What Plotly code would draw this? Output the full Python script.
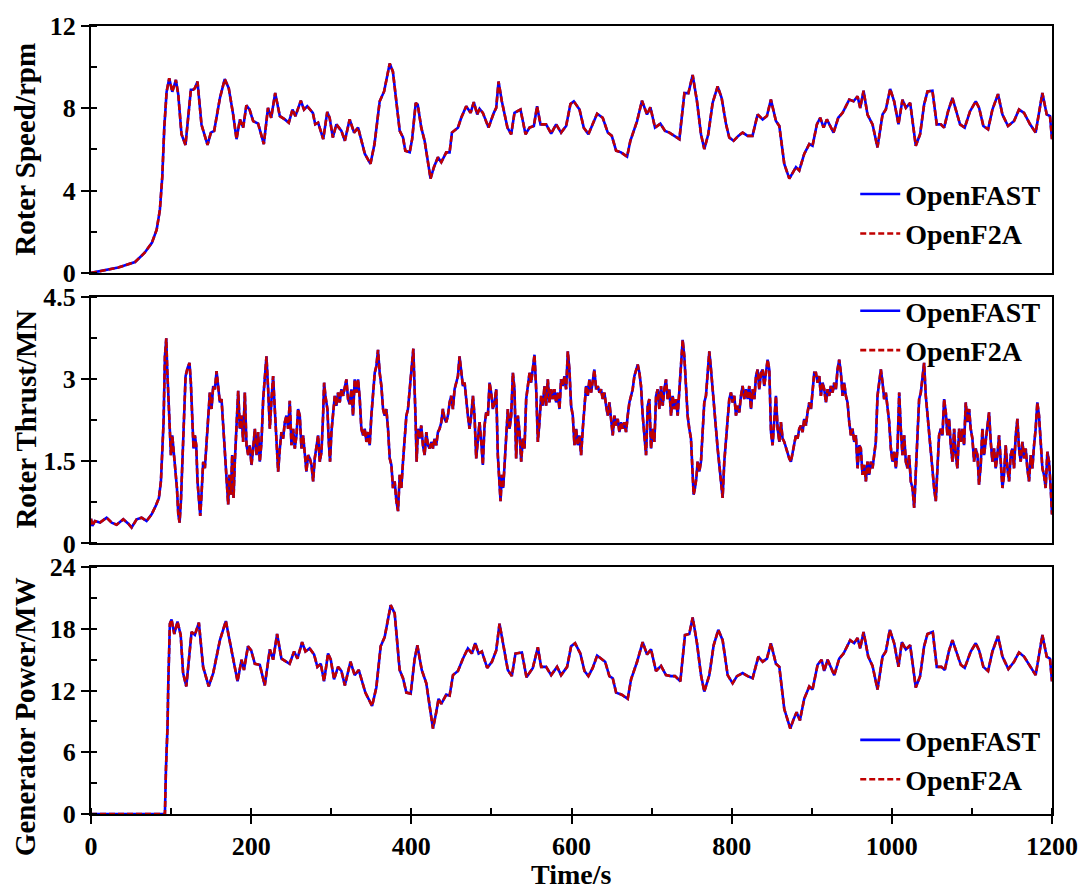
import plotly.graph_objects as go
from plotly.subplots import make_subplots

# ---------------- data ----------------
t_speed = [0, 34, 55, 67, 76, 82, 86, 89, 91.5, 94.4, 97.7, 101.5, 106, 109, 113, 118, 124.7, 127.6, 129.7, 133,
           138, 145.5, 149.7, 153.8, 161, 167, 172, 177.5, 181.7, 186, 190, 194, 198, 202.5, 208.7, 215.8, 221, 225,
           230, 235.8, 242, 247, 251.6, 255.3, 262, 266, 270, 277, 280, 283.6, 290, 295, 298, 302, 306.4, 312.7,
           317, 323, 328.5, 333.5, 342, 349, 354, 360.5, 366, 373, 377, 381, 385.5, 389.6, 392.5, 398, 401, 405.5,
           408, 412.4, 416.6, 424, 428.2, 433.2, 437.4, 443.6, 447.8, 450.7, 458.2, 462.3, 468.5, 474, 478, 482.3,
           485.2, 489.3, 496.4, 503, 506, 508.9, 513, 520, 524.7, 528.8, 536.3, 542.6, 547.6, 553, 557, 561.3,
           568.3, 574.6, 580.8, 587, 593.3, 598.7, 602.9, 610, 615.3, 621.1, 626.5, 632, 639, 645.3, 650.3, 655.7,
           661.9, 669.4, 673.5, 681.9, 688, 694.3, 698.5, 704.3, 711, 716.8, 722.2, 728.4, 734.7, 741, 746, 751.3,
           756.7, 761.7, 765.8, 770.8, 776.2, 782.5, 787.5, 793, 797, 802.4, 808.3, 813.7, 820, 826, 832.4, 838.7,
           844, 849, 855.3, 859.5, 865.7, 872, 876, 880.3, 884.4, 890.6, 896.9, 901, 906.4, 910.6, 914.8, 918.9,
           927.2, 933.1, 938.5, 946.8, 952.2, 957.2, 960.5, 964.7, 969.6, 975.9, 982.1, 988.4, 992.5, 997.9,
           1002.9, 1008.3, 1013.3, 1017.5, 1022.9, 1029.9, 1035.3, 1040.3, 1044.5, 1050.7, 1056.1, 1061.1, 1065.3,
           1070.3, 1075.7, 1079.8, 1085.2, 1091, 1097.7, 1104.8, 1109, 1114.3, 1120.2, 1125.6, 1132.6, 1138.1,
           1145.1, 1152.6, 1158.8, 1165.1, 1172.6, 1179.6, 1188, 1193.4, 1197.5, 1200]
speed = [0, 0.26, 0.53, 0.98, 1.46, 2.1, 3.06, 4.66, 7.06, 8.8, 9.46, 8.8, 9.38, 8.66, 6.74, 6.22, 8.9, 8.9, 8.98, 9.3,
         7.2, 6.22, 6.82, 6.9, 8.5, 9.42, 8.98, 7.7, 6.5, 7.46, 7.06, 8.14, 7.94, 7.38, 7.25, 6.26, 8.02, 7.54,
         8.74, 7.62, 7.46, 7.3, 7.94, 7.62, 8.37, 7.94, 8.1, 7.78, 7.22, 7.3, 6.5, 7.82, 7.54, 6.58, 7.22, 6.9,
         6.42, 7.46, 6.82, 7.06, 5.78, 5.3, 6.26, 8.34, 8.82, 10.18, 9.78, 8.34, 6.9, 6.58, 5.94, 5.86, 6.5, 8.26,
         8.18, 7.06, 6.42, 4.58, 5.14, 5.62, 5.38, 5.86, 5.86, 6.82, 7.06, 7.54, 8.1, 7.78, 8.3, 7.7,
         7.98, 7.78, 7.06, 7.78, 8.02, 9.3, 8.34, 7.06, 6.74, 7.78, 7.94, 6.74, 7.06, 7.14, 8.1, 7.22,
         7.22, 6.77, 7.22, 6.82, 7.14, 8.21, 8.34, 7.94, 7.06, 6.74, 7.22, 7.74, 7.54, 6.82, 6.66, 5.94,
         5.86, 5.65, 6.42, 7.38, 8.37, 7.7, 8.05, 7.06, 7.25, 6.9, 6.82, 6.66, 6.5, 8.74, 8.74, 9.62,
         8.34, 6.74, 6.02, 6.74, 8.26, 9.06, 8.5, 7.22, 6.58, 6.42, 6.66, 6.82, 6.66, 6.66, 7.7, 7.46,
         7.62, 8.42, 7.38, 7.14, 5.3, 4.58, 4.82, 5.14, 4.98, 5.78, 6.26, 6.18, 7.22, 7.54, 7.06, 7.46,
         6.82, 7.54, 7.78, 8.42, 8.34, 8.58, 8.02, 8.85, 7.7, 7.22, 6.1, 7.7, 7.94, 8.94,
         8.34, 7.22, 8.42, 8.02, 8.26, 6.18, 6.74, 8.18, 8.82, 8.85, 7.22, 7.22, 7.06,
         7.86, 8.5, 7.94, 7.22, 7.06, 7.86, 8.34, 8.02, 7.14, 6.98, 7.94, 8.69, 7.7,
         7.14, 7.38, 7.94, 7.78, 7.22, 6.82, 8.74, 7.7, 7.62, 6.5]

t_thrust = [0, 1.7, 5, 11.2, 19.5, 25.8, 32, 40.3, 46.6, 50.7, 57, 63.2, 69.4, 75.7, 80.7, 84.8, 87.3, 89, 90.6, 92.3,
            94, 95.2, 96.5, 98, 99.8, 101.5, 103, 104.8, 107.3, 109, 110.6, 112.3, 114.3, 116.4, 118.1, 120.6, 123,
            124.7, 126.4, 128, 129.7, 131.4, 133, 135.1, 136.4, 138, 140.1, 142.2, 144.3, 146.4, 148.4, 150.5,
            152.6, 154.7, 156.8, 158.8, 160.9, 163, 165, 167.2, 169.2, 171.3, 173, 174.6, 176.3, 178, 179.6, 181.7,
            183.8, 185.9, 188, 190, 192.1, 194.2, 196.3, 198.3, 200.4, 202.5, 204.6, 206.7, 208.7, 210.8, 212.9,
            215, 217, 219.1, 221.2, 223.3, 225.4, 227.4, 229.5, 231.6, 233.7, 235.8, 237.8, 239.9, 242, 244.1,
            246.2, 248.2, 250.3, 252.4, 254.5, 256.6, 258.6, 260.7, 262.8, 264.9, 267, 269, 271.1, 273.2, 275.3,
            277.4, 279.4, 281.5, 283.6, 285.7, 287.8, 289.8, 291.1, 292.7, 295.2, 296.9, 298.5, 300.2, 302.3,
            304.4, 306.4, 308.5, 310.6, 312.7, 314.8, 316.8, 318.9, 321, 323.1, 325.2, 327.2, 329.3, 331.4, 333.5,
            335.6, 337.6, 339.7, 341.8, 343.9, 346, 348, 350.1, 352.2, 354.3, 356.3, 358.4, 360.5, 362.6, 364.7,
            366.7, 368.8, 370.9, 373, 375.1, 377.1, 379.2, 381.3, 383.4, 385.5, 387.5, 389.6, 391.7, 393.8, 395.8,
            397.9, 400, 402.5, 405.4, 406.6, 408.3, 410.3, 412.4, 414.5, 416.6, 418.7, 420.7, 422.8, 424.9, 427,
            429, 431.1, 433.2, 435.3, 437.4, 439.4, 441.5, 443.6, 445.7, 447.8, 449.8, 451.9, 454, 456.1, 458.2,
            460.2, 462.3, 464.4, 466.5, 468.5, 470.6, 472.7, 474.8, 476.9, 478.9, 481, 483.1, 485.2, 487.3, 489.3,
            491.4, 493.5, 495.6, 497.7, 499.7, 501.8, 503.9, 506, 508, 510.1, 511.4, 513, 514.7, 516.4, 518.4,
            520.5, 522.6, 524.7, 526.8, 528.8, 530.9, 533, 535.1, 537.2, 539.2, 541.3, 543.4, 545.5, 547.6, 549.6,
            551.7, 553.8, 555.9, 558, 560, 562.1, 564.2, 566.3, 568.3, 570.4, 572.5, 574.6, 576.7, 578.7, 580.8,
            582.9, 585, 587, 589.1, 591.2, 593.3, 595.4, 597.4, 599.5, 601.6, 603.7, 605.8, 607.8, 609.9, 612,
            614.1, 616.2, 618.2, 620.3, 622.4, 624.5, 626.5, 628.6, 630.7, 632.8, 634.9, 636.9, 639, 641.1, 643.2,
            645.3, 647.3, 649.4, 651.5, 653.6, 655.7, 657.7, 659.8, 661.9, 664, 666, 668.1, 670.2, 672.3, 674.4,
            676.4, 678.5, 680.6, 682.7, 684.8, 686.8, 688.9, 691, 693.1, 695.2, 697.2, 699.3, 701.4, 703.5, 705.6,
            707.6, 709.7, 711.8, 713.9, 715.9, 718, 720.1, 722.2, 724.3, 726.3, 728.4, 730.5, 732.6, 734.7, 736.7,
            738.8, 740.9, 743, 745, 747.1, 749.2, 751.3, 752.5, 754.2, 755.9, 757.5, 759.6, 761.7, 763.8, 765.8,
            767.9, 770, 772.1, 774.2, 776.2, 778.3, 780.4, 782.5, 784.6, 786.6, 788.7, 790.8, 792.9, 795, 797,
            799.1, 801.2, 803.3, 805.4, 807.4, 809.5, 811.6, 813.7, 815.8, 817.9, 820, 822, 824.1, 826.2, 828.3,
            830.4, 832.4, 834.5, 836.6, 838.7, 840.7, 842.8, 844.9, 847, 849.1, 851.1, 853.2, 855.3, 857.4, 859.5,
            861.5, 863.6, 865.7, 867.8, 869.9, 871.9, 874, 876.1, 878.2, 880.2, 882.3, 884.4, 886.5, 888.6, 890.6,
            892.7, 894.8, 896.9, 899, 901, 903.1, 905.2, 907.3, 909.4, 911.4, 913.5, 915.6, 917.7, 919.8, 921.8,
            923.9, 926, 928.1, 930.1, 932.2, 934.3, 936.4, 938.5, 940.5, 942.6, 944.7, 946.8, 948.9, 950.9, 953,
            955.1, 957.2, 959.3, 961.3, 963.4, 965.5, 967.6, 969.6, 971.7, 973.8, 975.9, 978, 980, 982.1, 984.2,
            986.3, 988.4, 990.4, 992.5, 994.6, 996.7, 998.8, 1000.8, 1002.9, 1005, 1007.1, 1009.2, 1011.2, 1013.3,
            1015.4, 1017.5, 1019.5, 1021.6, 1023.7, 1025.8, 1027.9, 1029.9, 1032, 1034.1, 1036.2, 1038.3, 1040.3,
            1042.4, 1044.5, 1046.6, 1048.6, 1050.7, 1052.8, 1054.9, 1057, 1059, 1061.1, 1063.2, 1065.3, 1067.4,
            1069.4, 1071.5, 1073.6, 1075.7, 1077.8, 1079.8, 1081.9, 1084, 1086.1, 1088.2, 1090.2, 1092.3, 1094.4,
            1096.5, 1098.5, 1100.6, 1102.7, 1104.8, 1106.9, 1108.9, 1111, 1113.1, 1115.2, 1117.3, 1119.3, 1121.4,
            1123.5, 1125.6, 1127.7, 1129.7, 1131.8, 1133.9, 1136, 1138.1, 1140.1, 1142.2, 1144.3, 1146.4, 1148.4,
            1150.5, 1152.6, 1154.7, 1156.8, 1158.8, 1160.9, 1163, 1165.1, 1167.2, 1169.2, 1171.3, 1173.4, 1175.5,
            1177.6, 1179.6, 1181.7, 1183.8, 1185.9, 1188, 1190, 1192.1, 1194.2, 1196.3, 1198.4, 1200]
thrust = [0.45, 0.32, 0.41, 0.38, 0.47, 0.38, 0.34, 0.44, 0.36, 0.29, 0.44, 0.47, 0.41, 0.53, 0.68, 0.83, 1.13, 1.61,
          2.21, 3.41, 3.74, 3.17, 2.69, 2.09, 1.61, 1.97, 1.73, 1.49, 1.01, 0.53, 0.38, 0.77, 1.61, 2.33, 3.05, 3.2,
          3.29, 2.93, 2.21, 1.73, 1.97, 1.79, 1.13, 0.77, 0.5, 0.89, 1.49, 1.37, 1.79, 2.33, 2.75, 2.45,
          2.87, 2.81, 3.14, 2.87, 2.57, 2.63, 2.21, 1.61, 1.25, 0.71, 1.25, 0.89, 1.61, 0.83, 1.49, 2.21,
          2.78, 2.09, 2.33, 1.85, 2.75, 1.79, 1.61, 1.79, 1.43, 1.73, 2.09, 1.61, 2.03, 1.49, 1.85,
          2.63, 2.99, 3.41, 2.81, 2.09, 2.63, 3.05, 2.45, 1.79, 1.31, 1.73, 2.03, 1.91, 2.21, 2.33,
          2.09, 2.6, 1.79, 2.09, 1.73, 1.97, 2.45, 2.33, 1.73, 1.97, 1.61, 1.31, 1.61, 1.55, 1.43,
          1.13, 1.55, 1.79, 1.97, 1.49, 1.67, 2.33, 2.93, 2.69, 2.45, 1.85, 1.49, 2.03, 2.39,
          2.69, 2.51, 2.75, 2.57, 2.81, 2.69, 2.87, 2.99, 2.63, 2.54, 2.81, 2.33, 2.99, 2.75, 2.99,
          2.63, 2.09, 1.97, 2.09, 1.85, 2.03, 1.79, 2.33, 2.81, 3.11, 3.23, 3.53, 3.11, 2.87, 2.45,
          2.33, 2.45, 2.09, 1.55, 1.43, 1.01, 1.13, 0.77, 0.59, 1.25, 1.01, 1.49, 1.97, 2.33, 2.45,
          2.81, 3.17, 3.55, 2.21, 1.49, 2.09, 1.91, 2.15, 1.79, 1.61, 2.03, 1.79, 1.73, 1.85, 1.73,
          1.91, 1.79, 2.03, 2.09, 2.21, 2.45, 2.27, 2.21, 2.33, 2.57, 2.69, 2.45, 2.81, 2.93, 3.05,
          3.41, 3.17, 2.87, 2.93, 2.57, 2.33, 2.09, 2.33, 2.69, 2.33, 1.55, 1.97, 2.21, 1.85, 1.43,
          2.15, 2.39, 2.33, 2.93, 2.75, 2.45, 2.57, 2.81, 1.61, 1.13, 0.77, 1.25, 1.01, 1.43, 1.91,
          2.45, 2.09, 2.33, 3.11, 2.81, 1.55, 2.33, 2.03, 1.49, 1.91, 1.73, 2.63, 2.93, 3.11, 2.93,
          3.17, 3.44, 2.81, 1.85, 2.21, 2.69, 2.51, 2.87, 2.51, 2.99, 2.57, 2.81, 2.63, 2.81, 2.57,
          2.75, 2.45, 2.99, 2.87, 3.05, 2.81, 3.5, 3.17, 2.51, 2.33, 1.79, 2.09, 1.79, 1.97, 1.61,
          2.09, 2.57, 2.87, 2.69, 2.99, 2.75, 2.93, 3.17, 2.81, 2.87, 2.75, 2.81, 2.63, 2.75, 2.51,
          2.33, 2.57, 2.21, 1.97, 2.33, 2.15, 2.27, 2.03, 2.21, 2.09, 2.21, 2.03, 2.33, 2.57, 2.69,
          2.81, 3.05, 3.17, 3.26, 3.11, 2.87, 2.33, 1.97, 1.61, 2.51, 2.63, 1.73, 2.09, 1.85, 2.69,
          2.81, 2.45, 2.87, 2.51, 2.81, 2.99, 2.63, 2.81, 2.33, 2.69, 2.45, 2.63, 2.33, 2.81, 3.17,
          3.71, 3.41, 2.81, 2.33, 2.09, 1.91, 1.25, 0.89, 1.01, 1.19, 1.49, 1.31, 1.49, 2.03, 2.57,
          2.69, 3.05, 3.5, 3.17, 2.81, 2.33, 2.03, 1.73, 1.43, 1.19, 0.83, 1.49, 1.85, 2.21, 2.63,
          2.75, 2.57, 2.69, 2.33, 2.51, 2.39, 2.69, 2.87, 2.63, 2.81, 2.63, 2.87, 2.45, 2.81, 2.63,
          3.05, 3.17, 2.81, 3.11, 3.17, 2.87, 3.11, 3.35, 3.17, 2.03, 1.79, 2.21, 2.69, 2.09, 1.85,
          2.21, 1.91, 1.85, 1.73, 1.61, 1.55, 1.49, 1.67, 1.79, 1.97, 1.91, 2.09, 2.15, 2.03, 2.27,
          2.15, 2.39, 2.57, 2.45, 2.81, 3.11, 3.11, 2.93, 3.05, 2.69, 2.93, 2.81, 2.57, 2.81, 2.69,
          2.87, 2.75, 2.93, 2.81, 3.17, 3.35, 3.11, 2.69, 2.93, 2.69, 2.57, 2.21, 1.97, 2.09, 1.85,
          1.97, 1.37, 1.79, 1.73, 1.25, 1.43, 1.13, 1.49, 1.25, 1.49, 1.37, 1.61, 1.85, 2.69, 2.93,
          3.17, 2.93, 2.63, 2.75, 2.45, 2.21, 1.73, 1.49, 1.67, 1.37, 1.73, 2.75, 2.09, 1.61,
          1.97, 1.49, 1.37, 1.61, 1.13, 1.01, 0.65, 1.25, 2.09, 2.63, 2.75, 2.99, 3.29,
          2.69, 2.33, 1.97, 1.61, 1.25, 1.01, 0.77, 1.49, 1.97, 2.09, 1.97, 2.63, 2.39,
          1.97, 2.27, 1.79, 1.49, 2.09, 1.61, 1.37, 2.09, 1.85, 2.09, 1.79, 2.57, 2.21,
          2.45, 2.09, 1.91, 1.49, 1.73, 1.61, 1.07, 1.43, 2.09, 1.61, 1.91, 2.09, 2.39,
          1.85, 1.49, 1.73, 1.37, 1.61, 1.97, 1.49, 1.01, 1.25, 1.79, 1.37, 1.13, 1.61,
          1.73, 1.37, 1.97, 2.27, 1.73, 1.49, 1.85, 1.55, 1.73, 1.37, 1.13, 1.61, 1.37,
          1.79, 2.09, 2.57, 2.33, 1.85, 1.37, 1.25, 1.01, 1.67, 1.49, 1.01, 0.53]

t_power = [0, 92.3, 93.6, 95.6, 96.5, 98.5, 100.6, 104, 108, 112, 115, 119, 125.6, 129.7, 134.7, 140, 147, 152.6, 161,
           168.4, 175.5, 183, 188, 191, 196, 200, 204.6, 210.8, 217, 223.3, 227.4, 232.4, 237.8, 248, 253.6, 257.8,
           263.6, 267.8, 273, 278.6, 282.7, 286.9, 291, 296, 299.4, 303.5, 308.5, 312.7, 317, 324, 329.3, 334.3,
           342.6, 351, 356.3, 361.7, 366.7, 374.2, 379.2, 385.4, 389.6, 393.8, 399.2, 404, 407.5, 413, 418.7, 427,
           431.1, 434, 437.4, 443.6, 447.8, 452, 458.2, 464.4, 470.6, 475.6, 479.8, 484, 488, 494.7, 500.6, 506,
           510.1, 514.3, 520.5, 525.5, 530, 538, 543.8, 551.7, 558, 562.1, 568.3, 574.6, 582, 587, 594.5, 599.5,
           604.5, 611, 616.2, 621.1, 626.5, 632, 642, 647.3, 651.5, 655.7, 662.7, 670.2, 674.4, 681.9, 688.9,
           694.3, 699.3, 705.5, 711.8, 718, 724.3, 729.3, 735.9, 741.7, 747.1, 751.3, 756.7, 761.7, 765.8, 772.1,
           777.5, 783.3, 788.7, 795, 801.2, 806.6, 813.7, 820, 826.2, 833.3, 838.7, 844, 849, 855.3, 859.5, 865.7,
           873.2, 877.3, 881.1, 885.2, 890.6, 896.9, 901, 907.3, 912.3, 915.6, 919.8, 928.1, 934.3, 939.7, 948,
           953, 957.2, 960.5, 964.7, 970.5, 975.9, 982.1, 988.4, 992.5, 997.5, 1002.9, 1008.3, 1012.5, 1017.5,
           1022.9, 1029.9, 1035.3, 1040.3, 1044.5, 1051.1, 1056.1, 1061.9, 1066.1, 1071.5, 1075.7, 1079.8, 1086.1,
           1091, 1098.5, 1104.8, 1109, 1114.3, 1120.2, 1125.6, 1132.6, 1138.1, 1145.5, 1152.6, 1158.8, 1165.1,
           1172.6, 1179.6, 1188, 1193.4, 1197.5, 1200]
power = [0, 0, 4.4, 8.6, 12.7, 18.5, 18.9, 17.5, 18.7, 17.4, 13.7, 12.4, 17.7, 17.4, 18.6, 14.3, 12.4, 13.7, 16.9,
         18.75, 15.9, 12.9, 15.0, 14.0, 16.3, 15.9, 14.6, 14.5, 12.5, 16.0, 15.0, 17.5, 15.1, 14.6, 15.8, 15.1,
         16.7, 15.8, 16.1, 15.5, 14.3, 14.6, 12.9, 15.6, 15.0, 13.1, 14.3, 13.9, 12.5, 14.8, 13.5, 14.0,
         11.8, 10.5, 12.3, 16.3, 17.2, 20.3, 19.5, 14.0, 13.2, 11.8, 11.7, 15.0, 16.4, 14.0, 12.7, 8.3,
         9.9, 11.2, 10.7, 11.6, 11.5, 13.5, 13.9, 15.1, 16.1, 15.6, 16.6, 15.6, 15.8, 14.2, 14.8, 15.9,
         18.5, 16.6, 14.0, 13.4, 15.6, 15.7, 13.3, 14.2, 16.2, 14.3, 14.3, 13.5, 14.3, 13.5, 14.3, 16.3,
         16.6, 15.6, 13.9, 13.4, 14.2, 15.4, 14.8, 13.4, 13.2, 11.8, 11.6, 11.2, 13.1, 14.8, 16.7,
         15.5, 16.0, 13.9, 14.4, 13.5, 13.4, 13.4, 12.9, 17.4, 17.5, 19.1, 16.6, 13.5, 11.9, 13.5,
         16.4, 17.9, 16.9, 13.5, 12.7, 13.4, 13.7, 13.4, 13.2, 15.3, 14.8, 15.1, 16.6, 14.6, 14.3, 10.2,
         8.3, 9.2, 9.9, 9.1, 11.2, 12.4, 12.1, 14.5, 15.0, 13.9, 15.0, 13.5, 15.1, 15.6, 16.9,
         16.6, 17.1, 16.1, 17.7, 15.3, 14.4, 12.1, 15.3, 15.8, 17.9, 16.6, 14.3, 16.7, 16.0,
         16.4, 12.3, 13.4, 16.3, 17.5, 17.7, 14.3, 14.3, 14.0, 15.9, 16.9, 15.9, 14.5,
         14.2, 15.8, 16.6, 15.9, 14.3, 13.9, 15.8, 17.3, 15.3, 14.1, 14.8, 15.7, 15.3,
         14.4, 13.5, 17.4, 15.3, 15.1, 12.9]

series_names = ["OpenFAST", "OpenF2A"]
y_titles = ["Roter Speed/rpm", "Roter Thrust/MN", "Generator Power/MW"]
y_ranges = [[0, 12], [0, 4.5], [0, 24]]
y_dticks = [4, 1.5, 6]
y_minor = [2, 0.75, 3]
x_ticks = [0, 200, 400, 600, 800, 1000, 1200]

# ---------------- figure ----------------
FONT = "Liberation Serif"
BLUE = "#0000FF"
RED = "#C00000"

fig = make_subplots(rows=3, cols=1, shared_xaxes=True, vertical_spacing=0.03)

panels = [(t_speed, speed), (t_thrust, thrust), (t_power, power)]
legend_ids = ["legend", "legend2", "legend3"]
for i, (tx, vals) in enumerate(panels):
    fig.add_trace(go.Scatter(x=tx, y=vals, mode="lines", name=series_names[0],
                             line=dict(color=BLUE, width=2.6), legend=legend_ids[i]), row=i + 1, col=1)
    fig.add_trace(go.Scatter(x=tx, y=vals, mode="lines", name=series_names[1],
                             line=dict(color=RED, width=2.6, dash="6px,3px"), legend=legend_ids[i]),
                  row=i + 1, col=1)

for i in range(3):
    fig.update_yaxes(range=y_ranges[i], dtick=y_dticks[i], tick0=0,
                     showline=True, linecolor="black", linewidth=2, mirror=True,
                     ticks="outside", ticklen=8, tickwidth=1.5, tickcolor="black",
                     showgrid=False, zeroline=False,
                     tickfont=dict(family=FONT, size=26, color="black", weight="bold"),
                     minor=dict(ticks="inside", ticklen=6, tickwidth=1.5, tickcolor="black",
                                dtick=y_minor[i], tick0=0, showgrid=False),
                     row=i + 1, col=1)
    fig.update_xaxes(range=[0, 1200], showline=True, linecolor="black", linewidth=2, mirror=True,
                     showgrid=False, zeroline=False, row=i + 1, col=1)
    if i < 2:
        fig.update_xaxes(ticks="", showticklabels=False, row=i + 1, col=1)

fig.update_xaxes(tickvals=x_ticks, ticks="outside", ticklen=8, tickwidth=1.5, tickcolor="black",
                 tickfont=dict(family=FONT, size=26, color="black", weight="bold"),
                 minor=dict(ticks="inside", ticklen=6, tickwidth=1.5, tickcolor="black", dtick=100, tick0=0),
                 row=3, col=1)

# y titles and x title as annotations
title_y = [0.843, 0.5006, 0.123]
for i in range(3):
    fig.add_annotation(text=y_titles[i], xref="paper", yref="paper", x=-0.0686, y=title_y[i],
                       xanchor="center", yanchor="middle", textangle=-90, showarrow=False,
                       font=dict(family=FONT, size=29, color="black", weight="bold"))
fig.add_annotation(text="Time/s", xref="paper", yref="paper", x=0.499, y=-0.077,
                   xanchor="center", yanchor="middle", showarrow=False,
                   font=dict(family=FONT, size=28, color="black", weight="bold"))

leg_common = dict(xanchor="right", x=0.994, yanchor="middle", bgcolor="rgba(0,0,0,0)",
                  borderwidth=0, font=dict(family=FONT, size=28, color="black", weight="bold"),
                  itemwidth=40, tracegroupgap=0)
fig.update_layout(
    width=1090, height=890,
    margin=dict(l=91, r=37, t=17, b=76),
    paper_bgcolor="white", plot_bgcolor="white",
    font=dict(family=FONT, color="black"),
    showlegend=True,
    legend=dict(y=0.7616, **leg_common),
    legend2=dict(y=0.6136, **leg_common),
    legend3=dict(y=0.069, **leg_common),
)

fig.write_html("out.html")
